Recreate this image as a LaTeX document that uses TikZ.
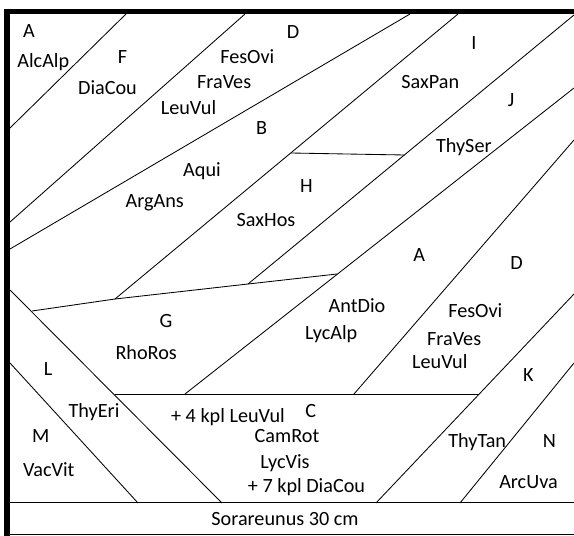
\documentclass[tikz,border=0pt]{standalone}
\usepackage{fontspec}
\setmainfont{Carlito}
\begin{document}
\begin{tikzpicture}[x=1pt,y=-1pt,
  lbl/.style={anchor=base,inner sep=0pt,font=\fontsize{20.2}{24}\selectfont,text=black},
  bnd/.style={draw=black,line width=0.85pt},
  frm/.style={draw=black}]
\useasboundingbox (0,0) rectangle (574,536);
% frame
\coordinate (tl) at (3.5,11.5); \coordinate (tr) at (574,11.5);
\coordinate (lt) at (6.75,8.75); \coordinate (lb) at (6.75,536);
\coordinate (sl) at (10,502.5); \coordinate (sr) at (574,502.5);
\coordinate (bl) at (10,534.5); \coordinate (br) at (574,534.5);
\draw[frm,line width=5.5pt] (tl) -- (tr);
\draw[frm,line width=6.5pt] (lt) -- (lb);
\draw[frm,line width=1.2pt] (sl) -- (sr);
\draw[frm,line width=1pt] (bl) -- (br);
% boundary coordinates
\coordinate (l1a) at (126,14);  \coordinate (l1b) at (10,128);
\coordinate (l2a) at (245,14);  \coordinate (l2b) at (10,222);
\coordinate (l3a) at (410,14);  \coordinate (l3b) at (10,249);
\coordinate (l4a) at (458,14);  \coordinate (l4b) at (115,299);
\coordinate (ha) at (291,153);  \coordinate (hm) at (347,154); \coordinate (hb) at (405,155);
\coordinate (l5a) at (574,15);  \coordinate (l5b) at (248,284);
\coordinate (l6a) at (574,88);  \coordinate (l6b) at (185,394);
\coordinate (l7a) at (574,140); \coordinate (l7b) at (354,394);
\coordinate (l8a) at (574,294); \coordinate (l8b) at (376,503);
\coordinate (l9a) at (574,363); \coordinate (l9b) at (460,503);
\coordinate (ga) at (32,311);   \coordinate (gb) at (337,274);
\coordinate (ca) at (115,394);  \coordinate (cb) at (479,394);
\coordinate (d1a) at (10,290);  \coordinate (d1b) at (222,503);
\coordinate (d2a) at (10,363);  \coordinate (d2b) at (138,503);
\draw[bnd] (l1a) -- (l1b);
\draw[bnd] (l2a) -- (l2b);
\draw[bnd] (l3a) -- (l3b);
\draw[bnd] (l4a) -- (l4b);
\draw[bnd] (ha) -- (hm) -- (hb);
\draw[bnd] (l5a) -- (l5b);
\draw[bnd] (l6a) -- (l6b);
\draw[bnd] (l7a) -- (l7b);
\draw[bnd] (l8a) -- (l8b);
\draw[bnd] (l9a) -- (l9b);
\draw[bnd] (ga) -- (l4b) -- (l5b) -- (gb);
\draw[bnd] (ca) -- (cb);
\draw[bnd] (d1a) -- (d1b);
\draw[bnd] (d2a) -- (d2b);
% labels
\node[lbl] (tA) at (29,37) {A};
\node[lbl] (tAlcAlp) at (43.3,67) {AlcAlp};
\node[lbl] (tF) at (122.5,63) {F};
\node[lbl] (tDiaCou) at (107.5,94) {DiaCou};
\node[lbl] (tD) at (293,38.3) {D};
\node[lbl] (tFesOvi) at (247.3,63.3) {FesOvi};
\node[lbl] (tFraVes) at (224.2,88.3) {FraVes};
\node[lbl] (tLeuVul) at (188.5,114.3) {LeuVul};
\node[lbl] (tI) at (474,49.3) {I};
\node[lbl] (tSaxPan) at (430.3,88.3) {SaxPan};
\node[lbl] (tJ) at (511,106.7) {J};
\node[lbl] (tB) at (261.7,134.3) {B};
\node[lbl] (tThySer) at (463.8,152.7) {ThySer};
\node[lbl] (tAqui) at (202,176.7) {Aqui};
\node[lbl] (tH) at (306.5,192.7) {H};
\node[lbl] (tArgAns) at (154.7,207.3) {ArgAns};
\node[lbl] (tSaxHos) at (266,226.7) {SaxHos};
\node[lbl] (tA2) at (419.3,261.7) {A};
\node[lbl] (tD2) at (516.5,269.5) {D};
\node[lbl] (tAntDio) at (357,312.7) {AntDio};
\node[lbl] (tLycAlp) at (331.2,339.3) {LycAlp};
\node[lbl] (tFesOvi2) at (475.3,317.7) {FesOvi};
\node[lbl] (tFraVes2) at (454.2,345) {FraVes};
\node[lbl] (tLeuVul2) at (439.8,368.7) {LeuVul};
\node[lbl] (tG) at (166,327.7) {G};
\node[lbl] (tRhoRos) at (146.2,359.3) {RhoRos};
\node[lbl] (tL) at (48,375.3) {L};
\node[lbl] (tK) at (528.3,381) {K};
\node[lbl] (tThyEri) at (94,417) {ThyEri};
\node[lbl] (tplus4) at (228,422) {+ 4 kpl LeuVul};
\node[lbl] (tC) at (310.7,417.7) {C};
\node[lbl] (tM) at (40.7,442) {M};
\node[lbl] (tCamRot) at (287,442.7) {CamRot};
\node[lbl] (tThyTan) at (477.2,447.7) {ThyTan};
\node[lbl] (tN) at (549.5,447.7) {N};
\node[lbl] (tVacVit) at (48.8,476.7) {VacVit};
\node[lbl] (tLycVis) at (285,468.7) {LycVis};
\node[lbl] (tplus7) at (306.5,492.7) {+ 7 kpl DiaCou};
\node[lbl] (tArcUva) at (528.5,488.7) {ArcUva};
\node[lbl] (tSora) at (285,525.3) {Sorareunus 30 cm};
\end{tikzpicture}
\end{document}
